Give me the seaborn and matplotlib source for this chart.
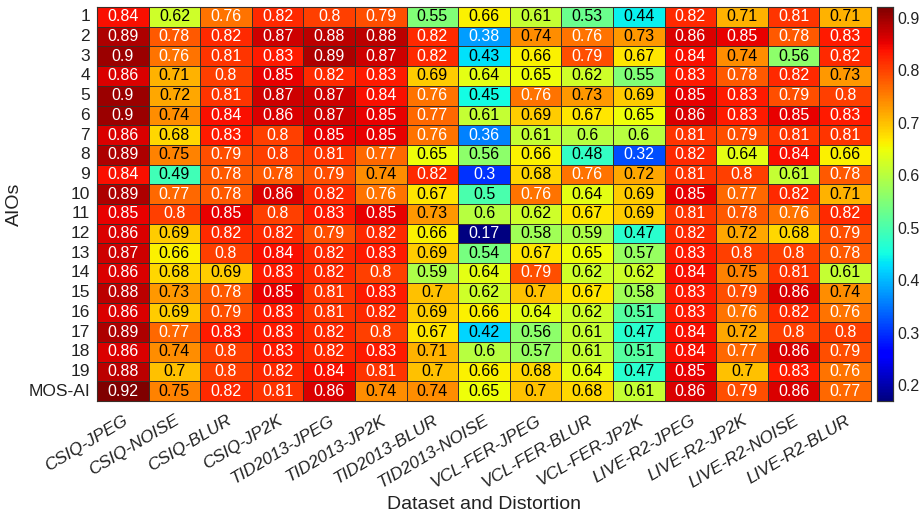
import numpy as np
import pandas as pd
import seaborn as sns
import matplotlib.pyplot as plt

# columns of the heatmap: dataset-distortion pairs, rows = AIOs 1..19 then MOS-AI
aios = [str(i) for i in range(1, 20)] + ["MOS-AI"]

csiq_jpeg = [0.84, 0.89, 0.9, 0.86, 0.9, 0.9, 0.86, 0.89, 0.84, 0.89, 0.85, 0.86, 0.87, 0.86, 0.88, 0.86, 0.89, 0.86, 0.88, 0.92]
csiq_noise = [0.62, 0.78, 0.76, 0.71, 0.72, 0.74, 0.68, 0.75, 0.49, 0.77, 0.8, 0.69, 0.66, 0.68, 0.73, 0.69, 0.77, 0.74, 0.7, 0.75]
csiq_blur = [0.76, 0.82, 0.81, 0.8, 0.81, 0.84, 0.83, 0.79, 0.78, 0.78, 0.85, 0.82, 0.8, 0.69, 0.78, 0.79, 0.83, 0.8, 0.8, 0.82]
csiq_jp2k = [0.82, 0.87, 0.83, 0.85, 0.87, 0.86, 0.8, 0.8, 0.78, 0.86, 0.8, 0.82, 0.84, 0.83, 0.85, 0.83, 0.83, 0.83, 0.82, 0.81]
tid_jpeg = [0.8, 0.88, 0.89, 0.82, 0.87, 0.87, 0.85, 0.81, 0.79, 0.82, 0.83, 0.79, 0.82, 0.82, 0.81, 0.81, 0.82, 0.82, 0.84, 0.86]
tid_jp2k = [0.79, 0.88, 0.87, 0.83, 0.84, 0.85, 0.85, 0.77, 0.74, 0.76, 0.85, 0.82, 0.83, 0.8, 0.83, 0.82, 0.8, 0.83, 0.81, 0.74]
tid_blur = [0.55, 0.82, 0.82, 0.69, 0.76, 0.77, 0.76, 0.65, 0.82, 0.67, 0.73, 0.66, 0.69, 0.59, 0.7, 0.69, 0.67, 0.71, 0.7, 0.74]
tid_noise = [0.66, 0.38, 0.43, 0.64, 0.45, 0.61, 0.36, 0.56, 0.3, 0.5, 0.6, 0.17, 0.54, 0.64, 0.62, 0.66, 0.42, 0.6, 0.66, 0.65]
vcl_jpeg = [0.61, 0.74, 0.66, 0.65, 0.76, 0.69, 0.61, 0.66, 0.68, 0.76, 0.62, 0.58, 0.67, 0.79, 0.7, 0.64, 0.56, 0.57, 0.68, 0.7]
vcl_blur = [0.53, 0.76, 0.79, 0.62, 0.73, 0.67, 0.6, 0.48, 0.76, 0.64, 0.67, 0.59, 0.65, 0.62, 0.67, 0.62, 0.61, 0.61, 0.64, 0.68]
vcl_jp2k = [0.44, 0.73, 0.67, 0.55, 0.69, 0.65, 0.6, 0.32, 0.72, 0.69, 0.69, 0.47, 0.57, 0.62, 0.58, 0.51, 0.47, 0.51, 0.47, 0.61]
live_jpeg = [0.82, 0.86, 0.84, 0.83, 0.85, 0.86, 0.81, 0.82, 0.81, 0.85, 0.81, 0.82, 0.83, 0.84, 0.83, 0.83, 0.84, 0.84, 0.85, 0.86]
live_jp2k = [0.71, 0.85, 0.74, 0.78, 0.83, 0.83, 0.79, 0.64, 0.8, 0.77, 0.78, 0.72, 0.8, 0.75, 0.79, 0.76, 0.72, 0.77, 0.7, 0.79]
live_noise = [0.81, 0.78, 0.56, 0.82, 0.79, 0.85, 0.81, 0.84, 0.61, 0.82, 0.76, 0.68, 0.8, 0.81, 0.86, 0.82, 0.8, 0.86, 0.83, 0.86]
live_blur = [0.71, 0.83, 0.82, 0.73, 0.8, 0.83, 0.81, 0.66, 0.78, 0.71, 0.82, 0.79, 0.78, 0.61, 0.74, 0.76, 0.8, 0.79, 0.76, 0.77]

columns = ["CSIQ-JPEG", "CSIQ-NOISE", "CSIQ-BLUR", "CSIQ-JP2K", "TID2013-JPEG", "TID2013-JP2K",
           "TID2013-BLUR", "TID2013-NOISE", "VCL-FER-JPEG", "VCL-FER-BLUR", "VCL-FER-JP2K",
           "LIVE-R2-JPEG", "LIVE-R2-JP2K", "LIVE-R2-NOISE", "LIVE-R2-BLUR"]
values = [csiq_jpeg, csiq_noise, csiq_blur, csiq_jp2k, tid_jpeg, tid_jp2k, tid_blur, tid_noise,
          vcl_jpeg, vcl_blur, vcl_jp2k, live_jpeg, live_jp2k, live_noise, live_blur]

df = pd.DataFrame(dict(zip(columns, values)), index=aios)

sns.set_style("white")
plt.rcParams["font.family"] = ["Liberation Sans", "DejaVu Sans"]

fig = plt.figure(figsize=(9.23, 5.16), dpi=100)
ax = fig.add_axes([97 / 923, 1 - 401 / 516, 774 / 923, 394 / 516])
cax = fig.add_axes([877 / 923, 1 - 401 / 516, 16 / 923, 394 / 516])

vmin, vmax = df.values.min(), df.values.max()
sns.heatmap(df, ax=ax, cbar_ax=cax, cmap="jet", vmin=vmin, vmax=vmax,
            annot=True, fmt="g", annot_kws={"fontsize": 11.5},
            linewidths=0.6, linecolor="#3a2e28")

# white text on the dark ends of the colormap, black in the middle
flat = df.values.flatten()
for txt, v in zip(ax.texts, flat):
    txt.set_color("white" if (v >= 0.755 or v <= 0.385) else "black")

ax.set_xticklabels(columns, rotation=31, ha="right", rotation_mode="anchor",
                   fontstyle="italic", fontsize=12.5, color="#222222")
ax.set_yticklabels(aios, rotation=0, fontsize=12.5, color="#222222")
ax.tick_params(axis="x", length=0, pad=8.5)
ax.tick_params(axis="y", length=0, pad=5)
ax.set_xlabel("Dataset and Distortion", fontsize=14, color="#222222")
ax.xaxis.set_label_coords(0.5, -0.241)
ax.set_ylabel("AIOs", fontsize=14, labelpad=4, color="#222222")
for s in ax.spines.values():
    s.set_visible(True)
    s.set_color("#3a2e28")
    s.set_linewidth(0.8)

cax.set_yticks([0.2, 0.3, 0.4, 0.5, 0.6, 0.7, 0.8, 0.9])
cax.set_yticklabels(["0.2", "0.3", "0.4", "0.5", "0.6", "0.7", "0.8", "0.9"])
cax.tick_params(axis="y", direction="in", length=4, labelsize=11.5, color="#333333",
                labelcolor="#222222", pad=3)
for s in cax.spines.values():
    s.set_visible(True)
    s.set_color("#333333")
    s.set_linewidth(0.8)

fig.savefig("out.png", dpi=100)
